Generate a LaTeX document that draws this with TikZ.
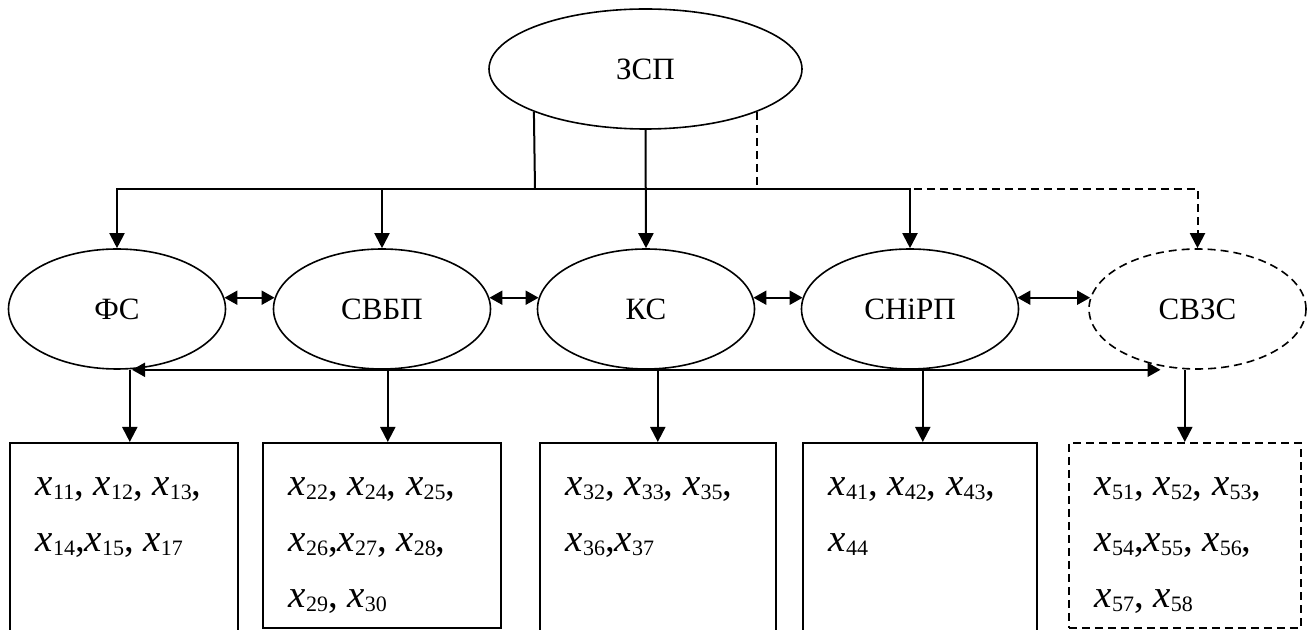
\documentclass[tikz,border=0pt]{standalone}
\usepackage{fontspec}
\setmainfont{Liberation Serif}
\usepackage{tikz}
\usetikzlibrary{shapes.geometric,arrows.meta}

\newcommand{\xs}[1]{\textit{x}\raisebox{-1.8pt}{\fontsize{11}{11}\selectfont #1}}
\newcommand{\boxtxt}[3]{\parbox[t][#2][t]{#1}{\fontsize{19.5}{28}\selectfont\raggedright\leftskip=13pt\rule{0pt}{26.5pt}#3}}

\tikzset{
	ell/.style={shape=ellipse,draw=black,line width=0.8pt,minimum width=108.5pt,minimum height=60pt,inner sep=0pt,font=\fontsize{15.5}{18}\selectfont},
	box/.style={shape=rectangle,draw=black,line width=0.8pt,inner sep=0pt,anchor=north west},
	dsh/.style={dash pattern=on 4pt off 2.5pt},
	line/.style={line width=1pt},
	arr/.style={line width=1pt,-{Triangle[length=7.5pt,width=7.5pt]}},
	dbl/.style={line width=1pt,{Triangle[length=6.5pt,width=7pt]}-{Triangle[length=6.5pt,width=7pt]}}
}

\begin{document}
\begin{tikzpicture}[x=0.5pt,y=-0.5pt]
	\useasboundingbox (0,0) rectangle (1307,630);
	\clip (0,0) rectangle (1307,630);
	
	\node[ell,minimum width=156.5pt] (zsp) at (645.5,69) {ЗСП};
	
	\node[ell] (fs)    at (117,309)    {ФС};
	\node[ell] (svbp)  at (382,309)    {СВБП};
	\node[ell] (ks)    at (646,309)    {КС};
	\node[ell] (snirp) at (910,309)    {СНіРП};
	\node[ell,dsh] (svzs) at (1197.5,309) {СВЗС};
	
	\node[box] (b1) at (9,442)    {\boxtxt{114pt}{104pt}{\xs{11}, \xs{12}, \xs{13},\\ \xs{14},\xs{15}, \xs{17}}};
	\node[box] (b2) at (262,442)  {\boxtxt{119pt}{92.5pt}{\xs{22}, \xs{24}, \xs{25},\\ \xs{26},\xs{27}, \xs{28},\\ \xs{29}, \xs{30}}};
	\node[box] (b3) at (539,442)  {\boxtxt{118pt}{104pt}{\xs{32}, \xs{33}, \xs{35},\\ \xs{36},\xs{37}}};
	\node[box] (b4) at (802,442)  {\boxtxt{117pt}{104pt}{\xs{41}, \xs{42}, \xs{43},\\ \xs{44}}};
	\node[box,dsh] (b5) at (1068,442) {\boxtxt{116pt}{92.5pt}{\xs{51}, \xs{52}, \xs{53},\\ \xs{54},\xs{55}, \xs{56},\\ \xs{57}, \xs{58}}};
	
	% links from the top
	\coordinate (j) at (535,189);
	\draw[line] (zsp.201) -- (j);
	\draw[arr] (j) -| (fs.north);
	\draw[arr] (j) -| (snirp.north);
	\draw[arr] (j -| svbp.north) -- (svbp.north);
	\draw[arr] (zsp.south) -- (ks.north);
	\draw[arr,dsh] (zsp.339) -- (zsp.339 |- j) -| (svzs.north);
	
	% links in the row
	\path[dbl] (fs.6) edge (svbp.174);
	\path[dbl] (svbp.6) edge (ks.174);
	\path[dbl] (ks.6) edge (snirp.174);
	\path[dbl] (snirp.6) edge (svzs.174);
	\draw[dbl] ([xshift=7.5pt]fs.south) -- ([xshift=-18.5pt]svzs.south);
	
	% down to the boxes
	\draw[arr] ([xshift=3pt]b1.north |- fs.south) -- ([xshift=3pt]b1.north);
	\draw[arr] ([xshift=3pt]b2.north |- svbp.south) -- ([xshift=3pt]b2.north);
	\draw[arr] (b3.north |- ks.south) -- (b3.north);
	\draw[arr] ([xshift=1.5pt]b4.north |- snirp.south) -- ([xshift=1.5pt]b4.north);
	\draw[arr] (b5.north |- svzs.south) -- (b5.north);
\end{tikzpicture}
\end{document}
